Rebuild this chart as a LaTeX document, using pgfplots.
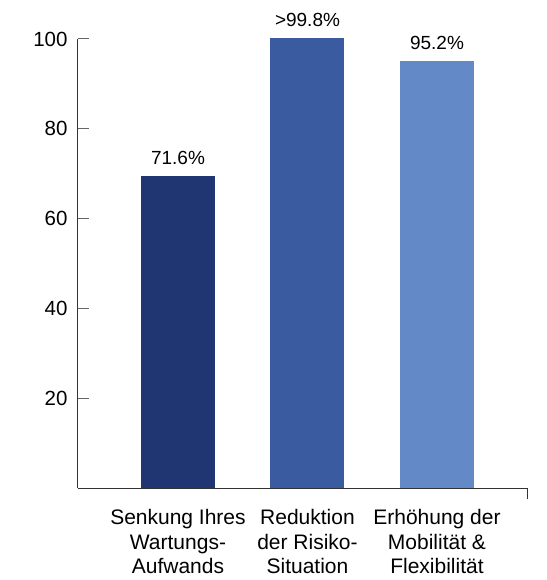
\documentclass[border=0pt]{standalone}
\usepackage{pgfplots}
\pgfplotsset{compat=1.18}
\usepackage{fontspec}
\setmainfont{Liberation Sans}
\definecolor{c1}{RGB}{31,54,114}
\definecolor{c2}{RGB}{58,91,160}
\definecolor{c3}{RGB}{99,137,198}
\begin{document}
\begin{tikzpicture}
\useasboundingbox (-78pt,-92pt) rectangle (468pt,488pt);
\begin{axis}[
  at={(0pt,0pt)}, anchor=south west,
  scale only axis, width=449pt, height=449pt,
  xmin=-0.772, xmax=2.695, ymin=0, ymax=100,
  clip=false,
  axis x line*=bottom, axis y line*=left,
  axis line style={draw=black!80, line width=1pt},
  ytick={20,40,60,80,100},
  tick align=inside, major tick length=11pt,
  tick style={draw=black!60, line width=1pt},
  yticklabel style={font=\fontsize{20.5}{24}\selectfont, xshift=-7pt},
  /pgf/number format/assume math mode=true,
  xtick={0,1,2},
  xticklabels={{Senkung Ihres\\Wartungs-\\Aufwands},{Reduktion\\der Risiko-\\Situation},{Erhöhung der\\Mobilität \&\\Flexibilität}},
  xticklabel style={font=\fontsize{21}{24.5}\selectfont, align=center, anchor=north, yshift=-7pt},
  major x tick style={draw=none},
  extra x ticks={2.695}, extra x tick labels={},
  extra x tick style={major x tick style={draw=black!80, line width=1pt}},
  ybar, bar width=74pt, bar shift=0pt,
  nodes near coords, point meta=explicit symbolic,
  nodes near coords style={font=\fontsize{19}{22}\selectfont, anchor=base, yshift=11pt, text=black},
]
\addplot[fill=c1, draw=none] coordinates {(0,69.5) [71.6\%]};
\addplot[fill=c2, draw=none] coordinates {(1,100.3) [>99.8\%]};
\addplot[fill=c3, draw=none] coordinates {(2,95.1) [95.2\%]};
\end{axis}
\end{tikzpicture}
\end{document}
